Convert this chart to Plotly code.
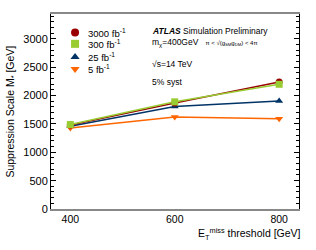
import plotly.graph_objects as go

thresholds = [400, 600, 800]
series_names = ["3000 fb<sup>-1</sup>", "300 fb<sup>-1</sup>", "25 fb<sup>-1</sup>", "5 fb<sup>-1</sup>"]
vals_3000 = [1480, 1870, 2240]
vals_300 = [1490, 1890, 2200]
vals_25 = [1460, 1810, 1905]
vals_5 = [1430, 1625, 1590]

colors = ["#990000", "#99cc33", "#003366", "#ff6600"]
symbols = ["circle", "square", "triangle-up", "triangle-down"]
all_vals = [vals_3000, vals_300, vals_25, vals_5]

# legend layout (fractional positions within plot area)
legend_x = 0.097
legend_y = [0.905, 0.847, 0.78, 0.718]

fig = go.Figure()
order = [3, 2, 0, 1]
for i in order:
    fig.add_trace(go.Scatter(
        x=thresholds, y=all_vals[i], mode="lines+markers", name=series_names[i],
        line=dict(color=colors[i], width=1.5),
        marker=dict(color=colors[i], symbol=symbols[i], size=7),
        showlegend=False,
    ))

for i in range(4):
    fig.add_trace(go.Scatter(
        x=[legend_x], y=[legend_y[i]], mode="markers", name=series_names[i],
        marker=dict(color=colors[i], symbol=symbols[i], size=8),
        xaxis="x2", yaxis="y2", showlegend=False, hoverinfo="skip",
    ))
    fig.add_annotation(xref="x2", yref="y2", x=legend_x + 0.045, y=legend_y[i],
                       text=series_names[i], showarrow=False, xanchor="left",
                       yanchor="middle", font=dict(size=9.5))

fig.update_layout(
    template="none",
    width=316, height=250,
    margin=dict(l=51, r=17, t=14, b=41),
    paper_bgcolor="white", plot_bgcolor="white",
    font=dict(family="Liberation Sans, Arial, sans-serif", color="black", size=11),
    showlegend=False,
    xaxis=dict(range=[363, 838], tickvals=[400, 600, 800], ticks="", showgrid=False,
               zeroline=False, showline=True, linecolor="#888", linewidth=1.5, mirror=True,
               tickfont=dict(size=10.5), automargin=False),
    yaxis=dict(range=[0, 3440], dtick=500, ticks="inside", ticklen=5, tickcolor="black",
               minor=dict(dtick=100, ticks="inside", ticklen=3, tickcolor="black"),
               showgrid=False, zeroline=False, showline=True, linecolor="black",
               linewidth=1, mirror="allticks", tickfont=dict(size=11), automargin=False),
    xaxis2=dict(range=[0, 1], overlaying="x", visible=False, fixedrange=True),
    yaxis2=dict(range=[0, 1], overlaying="y", visible=False, fixedrange=True),
)

fig.add_annotation(xref="paper", yref="paper", x=-0.165, y=0.5, textangle=-90,
                   text="Suppression Scale M<sub>*</sub> [GeV]", showarrow=False,
                   font=dict(size=10.5), xanchor="center", yanchor="middle")
fig.add_annotation(xref="paper", yref="paper", x=1.015, y=-0.13,
                   text="E<sub>T</sub><sup>miss</sup> threshold [GeV]", showarrow=False,
                   font=dict(size=10.5), xanchor="right", yanchor="middle")
fig.add_annotation(xref="paper", yref="paper", x=0.4, y=0.915,
                   text="<b><i>ATLAS</i></b> Simulation Preliminary", showarrow=False,
                   font=dict(size=8.5), xanchor="left", yanchor="middle")
fig.add_annotation(xref="paper", yref="paper", x=0.4, y=0.855,
                   text="m<sub>χ</sub>=400GeV   <span style='font-size:6px'>π &lt; √(g<sub>SM</sub>g<sub>DM</sub>) &lt; 4π</span>",
                   showarrow=False, font=dict(size=8.5), xanchor="left", yanchor="middle")
fig.add_annotation(xref="paper", yref="paper", x=0.4, y=0.745,
                   text="√s=14 TeV", showarrow=False,
                   font=dict(size=8.5), xanchor="left", yanchor="middle")
fig.add_annotation(xref="paper", yref="paper", x=0.4, y=0.65,
                   text="5% syst", showarrow=False,
                   font=dict(size=8.5), xanchor="left", yanchor="middle")

fig.write_html("out.html", config={"displayModeBar": False},
               post_script="document.body.style.margin='0px';")
